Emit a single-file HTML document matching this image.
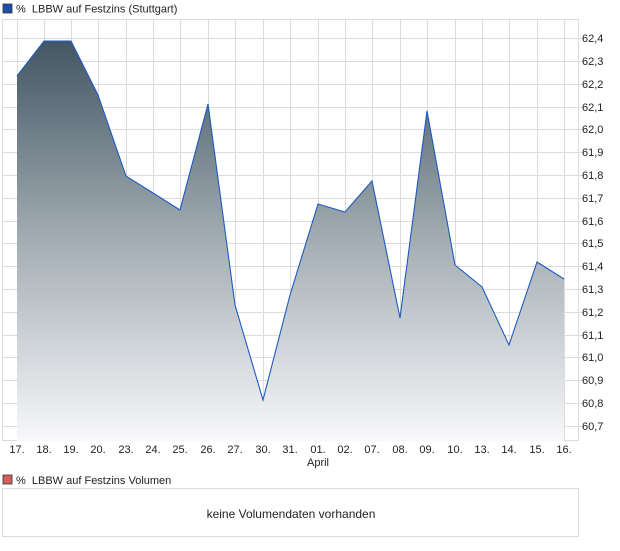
<!DOCTYPE html>
<html><head><meta charset="utf-8"><style>
body{margin:0;background:#fff;width:620px;height:546px;overflow:hidden;font-family:"Liberation Sans",sans-serif;}
</style></head><body>
<svg width="620" height="546" xmlns="http://www.w3.org/2000/svg" font-family="Liberation Sans, sans-serif" font-size="11" fill="#222">
<defs><linearGradient id="g" gradientUnits="userSpaceOnUse" x1="0" y1="41" x2="0" y2="441">
<stop offset="0" stop-color="#435663"/><stop offset="0.5" stop-color="#a3adb3"/><stop offset="1" stop-color="#f8f8fa"/></linearGradient></defs>
<rect x="3" y="4" width="9" height="9" fill="#1d4fa8" stroke="#333" stroke-width="0.8"/>
<text x="16" y="12.5">%&#160;&#160;LBBW auf Festzins (Stuttgart)</text>
<g stroke="#dcdcdc" stroke-width="1">
<rect x="2.5" y="19.5" width="576" height="421" fill="none"/>
<path d="M17.5 20V441M44.5 20V441M71.5 20V441M98.5 20V441M126.5 20V441M153.5 20V441M180.5 20V441M208.5 20V441M235.5 20V441M263.5 20V441M290.5 20V441M318.5 20V441M345.5 20V441M372.5 20V441M400.5 20V441M427.5 20V441M455.5 20V441M482.5 20V441M509.5 20V441M537.5 20V441M564.5 20V441"/>
<path d="M3 38.5H584M3 61.5H584M3 84.5H584M3 107.5H584M3 129.5H584M3 152.5H584M3 175.5H584M3 198.5H584M3 221.5H584M3 243.5H584M3 266.5H584M3 289.5H584M3 312.5H584M3 335.5H584M3 357.5H584M3 380.5H584M3 403.5H584M3 426.5H584"/>
</g>
<path d="M17 441L17 76L44 41L71 41L98 95L126 176L153 193L180 210L208 104L235 305L263 400L290 295L318 204L345 212L372 181L400 318L427 111L455 265L482 287L509 345L537 262L564 279L564 441Z" fill="url(#g)"/>
<path d="M17 76L44 41L71 41L98 95L126 176L153 193L180 210L208 104L235 305L263 400L290 295L318 204L345 212L372 181L400 318L427 111L455 265L482 287L509 345L537 262L564 279" fill="none" stroke="#1d5bc0" stroke-width="1.1"/>
<g font-size="11">
<text x="582" y="42">62,4</text><text x="582" y="65">62,3</text><text x="582" y="88">62,2</text><text x="582" y="111">62,1</text><text x="582" y="133">62,0</text><text x="582" y="156">61,9</text><text x="582" y="179">61,8</text><text x="582" y="202">61,7</text><text x="582" y="225">61,6</text><text x="582" y="247">61,5</text><text x="582" y="270">61,4</text><text x="582" y="293">61,3</text><text x="582" y="316">61,2</text><text x="582" y="339">61,1</text><text x="582" y="361">61,0</text><text x="582" y="384">60,9</text><text x="582" y="407">60,8</text><text x="582" y="430">60,7</text>
</g>
<g text-anchor="middle">
<text x="17" y="453">17.</text><text x="44" y="453">18.</text><text x="71" y="453">19.</text><text x="98" y="453">20.</text><text x="126" y="453">23.</text><text x="153" y="453">24.</text><text x="180" y="453">25.</text><text x="208" y="453">26.</text><text x="235" y="453">27.</text><text x="263" y="453">30.</text><text x="290" y="453">31.</text><text x="318" y="453">01.</text><text x="345" y="453">02.</text><text x="372" y="453">07.</text><text x="400" y="453">08.</text><text x="427" y="453">09.</text><text x="455" y="453">10.</text><text x="482" y="453">13.</text><text x="509" y="453">14.</text><text x="537" y="453">15.</text><text x="564" y="453">16.</text>
<text x="318" y="466">April</text>
</g>
<rect x="3" y="475" width="9" height="9" fill="#d06060" stroke="#333" stroke-width="0.8"/>
<text x="16" y="484">%&#160;&#160;LBBW auf Festzins Volumen</text>
<rect x="2.5" y="488.5" width="576" height="48" fill="none" stroke="#dcdcdc"/>
<text x="291" y="518" text-anchor="middle" font-size="12">keine Volumendaten vorhanden</text>
</svg>
</body></html>
